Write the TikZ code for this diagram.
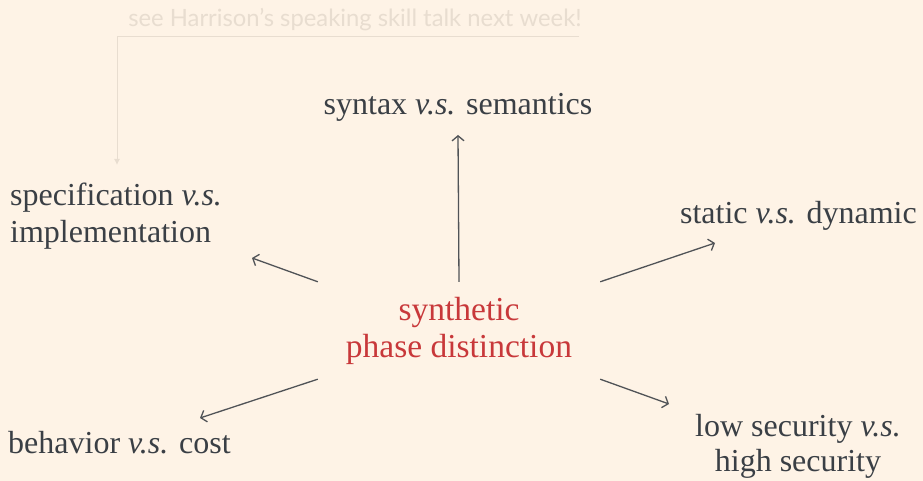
\documentclass[tikz,border=0pt]{standalone}
\usepackage{fontspec}
\setmainfont{Liberation Serif}
\newfontfamily\notefont{Lato}
\usetikzlibrary{arrows.meta}
\definecolor{paper}{HTML}{FEF3E6}
\definecolor{ink}{HTML}{3A3F45}
\definecolor{accent}{HTML}{C8383A}
\definecolor{faint}{HTML}{E8DDD0}
\definecolor{stroke}{HTML}{505357}

\begin{document}
\begin{tikzpicture}[x=1pt,y=1pt,
  topic/.style={inner sep=0pt, text=ink, font=\fontsize{32}{37}\selectfont},
  spoke/.style={draw=stroke, line width=1.3pt, -{Straight Barb[length=5pt,width=12pt]}},
]
\fill[paper] (0,0) rectangle (923,481);
\useasboundingbox (0,0) rectangle (923,481);

% central idea
\node[topic, text=accent, align=center, minimum width=282pt, minimum height=97pt,
  font=\fontsize{33.5}{37}\selectfont]
  (core) at (459,150.5) {synthetic\\phase distinction};

% surrounding distinctions (multi-line nodes sit on their last baseline)
\node[topic, anchor=base] (syn) at (458,366) {syntax \emph{v.s.} semantics};
\node[topic, anchor=base west, align=left] (spec) at (10,238)
  {specification \emph{v.s.}\\implementation};
\node[topic, anchor=base east] (stat) at (917,257) {static \emph{v.s.} dynamic};
\node[topic, anchor=base west] (beh) at (8,27) {behavior \emph{v.s.} cost};
\node[topic, anchor=base, align=center, font=\fontsize{32}{35.5}\selectfont]
  (sec) at (798,9) {low security \emph{v.s.}\\high security};

% arrow tips
\coordinate (tSyn)  at (458,346);
\coordinate (tSpec) at (252,223);
\coordinate (tStat) at (715,238);
\coordinate (tBeh)  at (200,63);
\coordinate (tSec)  at (669,77);

\draw[spoke] (core.north) -- (tSyn);
\draw[spoke] (core.north west) -- (tSpec);
\draw[spoke] (core.north east) -- (tStat);
\draw[spoke] (core.south west) -- (tBeh);
\draw[spoke] (core.south east) -- (tSec);

% side note
\node[inner sep=0pt, anchor=base, text=faint, font=\notefont\fontsize{23.8}{28}\selectfont]
  (note) at (355,454) {see Harrison’s speaking skill talk next week!};
\coordinate (noteStart) at (579,444);
\coordinate (noteEnd) at (117,316);
\draw[faint, line width=1pt, -{Latex[length=6pt,width=6pt]}] (noteStart) -| (noteEnd);
\end{tikzpicture}
\end{document}
